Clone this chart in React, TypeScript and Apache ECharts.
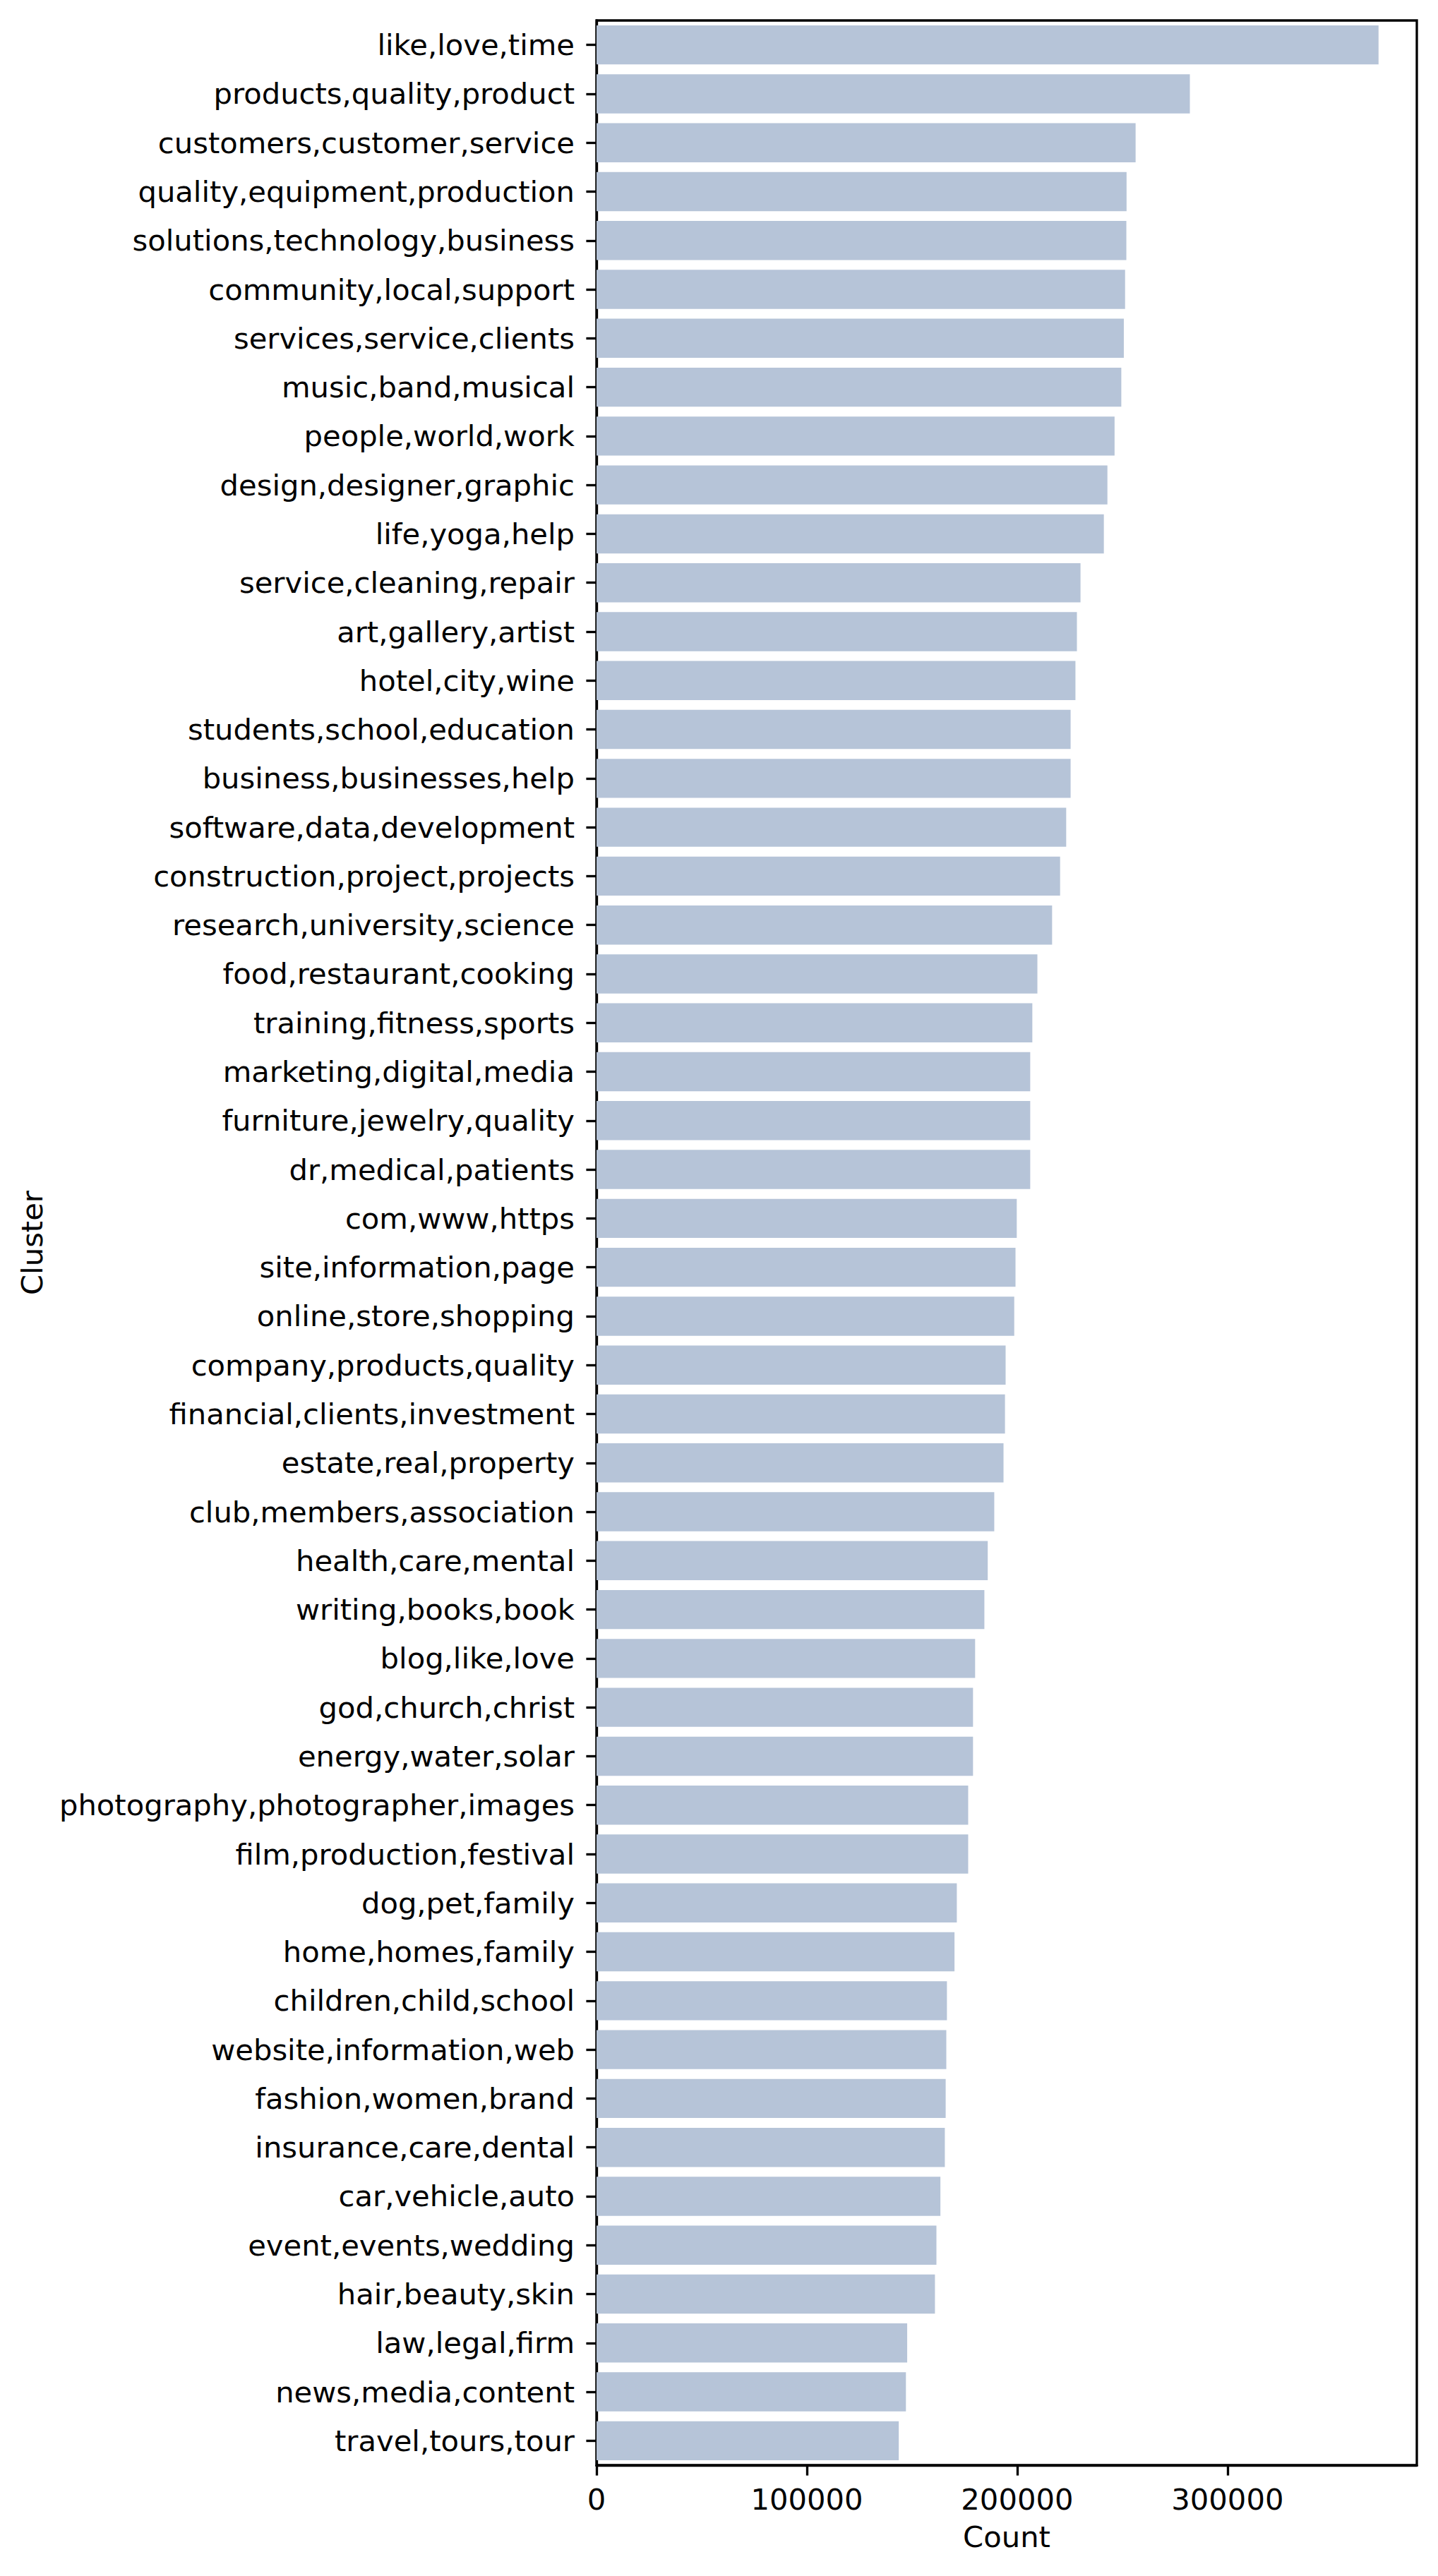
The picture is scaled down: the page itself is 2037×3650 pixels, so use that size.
import React, { useEffect, useRef } from "react";
import * as echarts from "echarts";

const categories: string[] = [
  "like,love,time",
  "products,quality,product",
  "customers,customer,service",
  "quality,equipment,production",
  "solutions,technology,business",
  "community,local,support",
  "services,service,clients",
  "music,band,musical",
  "people,world,work",
  "design,designer,graphic",
  "life,yoga,help",
  "service,cleaning,repair",
  "art,gallery,artist",
  "hotel,city,wine",
  "students,school,education",
  "business,businesses,help",
  "software,data,development",
  "construction,project,projects",
  "research,university,science",
  "food,restaurant,cooking",
  "training,fitness,sports",
  "marketing,digital,media",
  "furniture,jewelry,quality",
  "dr,medical,patients",
  "com,www,https",
  "site,information,page",
  "online,store,shopping",
  "company,products,quality",
  "financial,clients,investment",
  "estate,real,property",
  "club,members,association",
  "health,care,mental",
  "writing,books,book",
  "blog,like,love",
  "god,church,christ",
  "energy,water,solar",
  "photography,photographer,images",
  "film,production,festival",
  "dog,pet,family",
  "home,homes,family",
  "children,child,school",
  "website,information,web",
  "fashion,women,brand",
  "insurance,care,dental",
  "car,vehicle,auto",
  "event,events,wedding",
  "hair,beauty,skin",
  "law,legal,firm",
  "news,media,content",
  "travel,tours,tour",
];

const counts: number[] = [
  371800, 282100, 256300, 252000, 251900, 251300, 250700, 249500, 246300, 242900,
  241200, 230100, 228400, 227700, 225400, 225400, 223300, 220400, 216600, 209600,
  207200, 206200, 206200, 206200, 199800, 199200, 198600, 194500, 194200, 193500,
  189100, 186000, 184400, 180000, 179000, 179000, 176700, 176700, 171300, 170200,
  166600, 166300, 166000, 165600, 163500, 161600, 160900, 147700, 147100, 143700,
];

const xTicks: number[] = [0, 100000, 200000, 300000];

const FS = 41.7;
const LW = 3.33;
const FONT = "DejaVu Sans";

export default function App() {
  const ref = useRef<HTMLDivElement>(null);
  useEffect(() => {
    if (!ref.current) return;
    const chart = echarts.init(ref.current, undefined, { renderer: "svg" });
    chart.setOption({
      animation: false,
      backgroundColor: "#ffffff",
      textStyle: { fontFamily: FONT },
      grid: {
        left: 845,
        right: 30,
        top: 29,
        bottom: 157,
        show: true,
        borderColor: "#000000",
        borderWidth: LW,
        backgroundColor: "transparent",
        containLabel: false,
      },
      xAxis: {
        type: "value",
        min: 0,
        max: 390000,
        interval: 100000,
        name: "Count",
        nameLocation: "middle",
        nameGap: 80,
        nameTextStyle: { fontSize: FS, color: "#000", fontFamily: FONT },
        splitLine: { show: false },
        axisLine: { show: true, lineStyle: { color: "#000", width: LW } },
        axisTick: {
          show: true,
          length: 14.6,
          lineStyle: { color: "#000", width: LW },
          customValues: xTicks,
        },
        axisLabel: {
          fontSize: FS,
          color: "#000",
          fontFamily: FONT,
          margin: 27,
          customValues: xTicks,
          formatter: (v: number) => String(v),
        },
      },
      yAxis: {
        type: "category",
        data: categories,
        inverse: true,
        name: "Cluster",
        nameLocation: "middle",
        nameGap: 779,
        nameTextStyle: { fontSize: FS, color: "#000", fontFamily: FONT },
        axisLine: { show: true, lineStyle: { color: "#000", width: LW } },
        axisTick: {
          show: true,
          alignWithLabel: true,
          length: 14.6,
          lineStyle: { color: "#000", width: LW },
        },
        axisLabel: {
          fontSize: FS,
          color: "#000",
          fontFamily: FONT,
          margin: 31,
          interval: 0,
        },
        splitLine: { show: false },
      },
      series: [
        {
          type: "bar",
          data: counts,
          barCategoryGap: "20%",
          itemStyle: { color: "#b6c4d8" },
          emphasis: { disabled: true },
        },
      ],
    });
    return () => chart.dispose();
  }, []);
  return (
    <div
      ref={ref}
      style={{ position: "absolute", left: 0, top: 0, width: 2037, height: 3650 }}
    />
  );
}
